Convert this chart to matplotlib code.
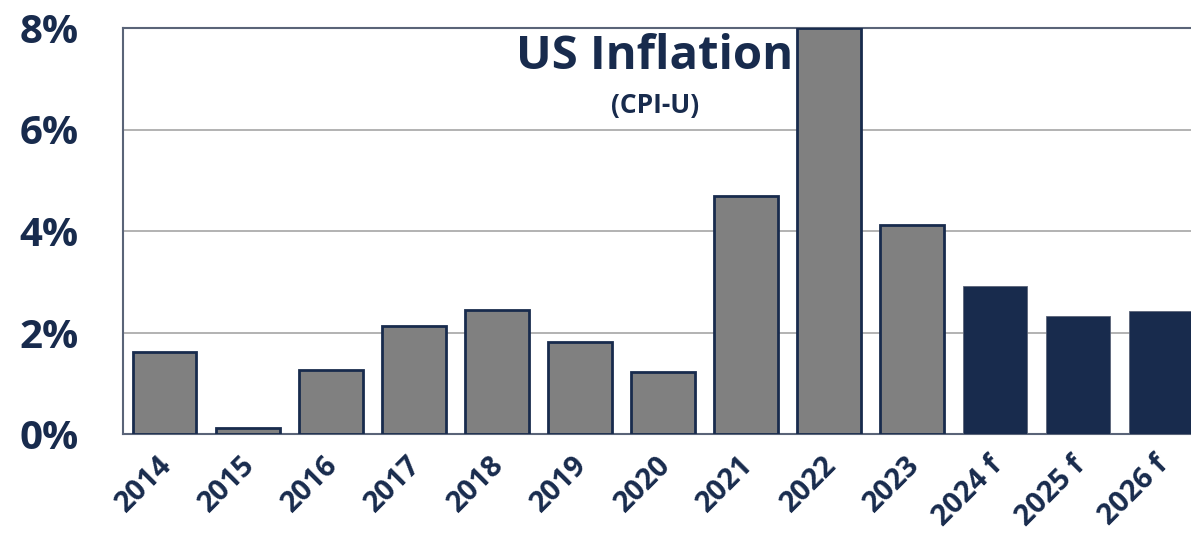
import matplotlib.pyplot as plt
from matplotlib.transforms import ScaledTranslation

# US CPI-U annual inflation, actual + forecast
years = ["2014", "2015", "2016", "2017", "2018", "2019", "2020",
         "2021", "2022", "2023", "2024 f", "2025 f", "2026 f"]
inflation = [1.62, 0.12, 1.26, 2.13, 2.44, 1.81, 1.23,
             4.68, 8.0, 4.12, 2.92, 2.32, 2.42]
forecast = [False] * 10 + [True] * 3

navy = "#182b4d"
gray = "#808080"

plt.rcParams['font.family'] = ['Open Sans', 'DejaVu Sans']

fig = plt.figure(figsize=(11.91, 5.35), dpi=100)
ax = fig.add_axes([123 / 1191, 1 - 434 / 535, (1202.5 - 123) / 1191, (434 - 28) / 535])

x = range(len(years))
colors = [navy if f else gray for f in forecast]
edges = [navy if not f else "#5a6478" for f in forecast]
lws = [2.0 if not f else 0.6 for f in forecast]
ax.bar(x, inflation, width=0.77, color=colors, edgecolor=edges, linewidth=lws, zorder=3)

ax.set_xlim(-0.5, len(years) - 0.5)
ax.set_ylim(0, 8)
ax.set_yticks([0, 2, 4, 6, 8])
ax.set_yticklabels(["0%", "2%", "4%", "6%", "8%"])
ax.yaxis.grid(True, color="#a6a6a6", linewidth=1.2, zorder=0)
ax.set_axisbelow(True)

ax.tick_params(axis="y", length=0, pad=32, labelsize=29, labelcolor=navy)
ax.tick_params(axis="x", length=0, pad=12, labelsize=21, labelcolor=navy)
for lab in ax.get_yticklabels():
    lab.set_fontweight("bold")
ax.set_xticks(list(x))
ax.set_xticklabels(years, rotation=45, ha="right", rotation_mode="anchor", fontweight="bold")
# nudge the slanted labels a little to the left
shift = ScaledTranslation(-7 / 100, 0, fig.dpi_scale_trans)
for lab in ax.get_xticklabels():
    lab.set_transform(lab.get_transform() + shift)

for side in ["left", "top", "bottom"]:
    ax.spines[side].set_color("#5a6478")
    ax.spines[side].set_linewidth(1.5)
ax.spines["right"].set_visible(False)

fig.text(655 / 1191, 1 - 57 / 535, "US Inflation", ha="center", va="center",
         fontsize=34, fontweight="bold", color=navy)
fig.text(655 / 1191, 1 - 106 / 535, "(CPI-U)", ha="center", va="center",
         fontsize=19, fontweight="bold", color=navy)

fig.savefig("out.png", dpi=100)
